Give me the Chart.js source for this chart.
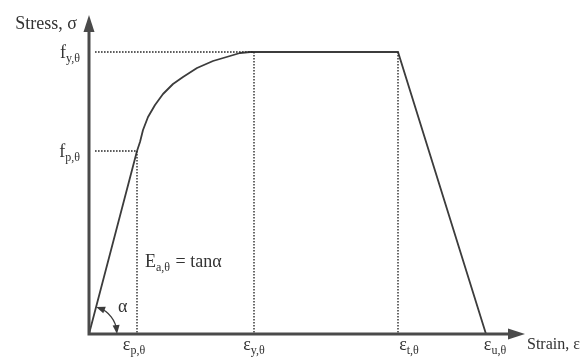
<!DOCTYPE html>
<html lang="en">

<head>
    <meta charset="UTF-8">
    <meta name="viewport" content="width=device-width, initial-scale=1.0">
    <title>Stress-strain relationship</title>
    <script src="https://cdn.jsdelivr.net/npm/chart.js"></script>
    <style>
        html, body { margin: 0; padding: 0; background: #fff; }
        .container { width: 584px; height: 359px; }
    </style>
</head>

<body>
    <div class="container">
        <canvas id="graficaTension" width="584" height="359"></canvas>
    </div>

    <script>
        // Puntos (unidades arbitrarias)
        const epsP = 48, epsY = 165, epsT = 309, epsU = 397;
        const fP = 183, fY = 282;

        // Rama eliptica entre f_p y f_y
        const curveStrain = [48, 51, 54, 59, 66, 74, 84, 94, 108, 124, 141, 151, 161, 165];
        const curveStress = [183, 192, 204, 217, 229, 240, 250, 257, 266, 273, 278, 281, 282, 282];

        // Tramos rectos: elastico, meseta y descenso
        const lineStrain = [0, epsP, null, epsY, epsT, epsU];
        const lineStress = [0, fP, null, fY, fY, 0];

        const xTickValues = [epsP, epsY, epsT, epsU];
        const xTickLabels = [['ε', 'p,θ'], ['ε', 'y,θ'], ['ε', 't,θ'], ['ε', 'u,θ']];
        const yTickValues = [fP, fY];
        const yTickLabels = [['f', 'p,θ'], ['f', 'y,θ']];

        const toPoints = (xs, ys) => xs.map((x, i) => x === null ? { x: null, y: null } : { x: x, y: ys[i] });

        const guide = (pts) => ({
            data: pts,
            borderColor: '#2a2a2a',
            borderWidth: 1.4,
            borderDash: [1.6, 1.4],
            pointRadius: 0,
            fill: false
        });

        const ink = '#3c3c3c';
        const serif = '"Times New Roman", "Liberation Serif", Times, serif';

        // texto con subindice
        function drawSub(ctx, main, sub, x, y, align, size) {
            ctx.font = size + 'px ' + serif;
            const w1 = ctx.measureText(main).width;
            ctx.font = Math.round(size * 0.66) + 'px ' + serif;
            const w2 = ctx.measureText(sub).width;
            let x0 = x;
            if (align === 'right') x0 = x - w1 - w2;
            if (align === 'center') x0 = x - (w1 + w2) / 2;
            ctx.textAlign = 'left';
            ctx.textBaseline = 'alphabetic';
            ctx.font = size + 'px ' + serif;
            ctx.fillText(main, x0, y);
            ctx.font = Math.round(size * 0.66) + 'px ' + serif;
            ctx.fillText(sub, x0 + w1, y + 4);
            return x0 + w1 + w2;
        }

        function arrowHead(ctx, tipX, tipY, angle, len, half) {
            ctx.save();
            ctx.translate(tipX, tipY);
            ctx.rotate(angle);
            ctx.beginPath();
            ctx.moveTo(0, 0);
            ctx.lineTo(-len, -half);
            ctx.lineTo(-len, half);
            ctx.closePath();
            ctx.fill();
            ctx.restore();
        }

        const ejesPlugin = {
            id: 'ejes',
            afterDatasetsDraw(chart) {
                const ctx = chart.ctx;
                const xs = chart.scales.x, ys = chart.scales.y;
                const ox = xs.getPixelForValue(0), oy = ys.getPixelForValue(0);
                const top = chart.chartArea.top, right = chart.chartArea.right;
                ctx.save();
                ctx.strokeStyle = '#4a4a4a';
                ctx.fillStyle = '#4a4a4a';
                ctx.lineWidth = 3;
                ctx.beginPath();
                ctx.moveTo(ox, top + 12);
                ctx.lineTo(ox, oy);
                ctx.lineTo(right - 12, oy);
                ctx.stroke();
                arrowHead(ctx, ox, top, -Math.PI / 2, 17, 5.5);
                arrowHead(ctx, right, oy, 0, 17, 5.5);

                // arco del angulo alfa
                const px = xs.getPixelForValue(epsP), py = ys.getPixelForValue(fP);
                const ang = Math.atan2(py - oy, px - ox);
                const r = 28;
                ctx.lineWidth = 1.3;
                ctx.strokeStyle = ink;
                ctx.fillStyle = ink;
                ctx.beginPath();
                ctx.arc(ox, oy, r, ang + 0.12, -0.12);
                ctx.stroke();
                arrowHead(ctx, ox + r * Math.cos(ang), oy + r * Math.sin(ang), ang - Math.PI / 2 + 0.1, 9, 3.5);
                arrowHead(ctx, ox + r, oy, Math.PI / 2 - 0.1, 9, 3.5);

                // textos
                ctx.fillStyle = '#333';
                ctx.font = '18px ' + serif;
                ctx.textAlign = 'right';
                ctx.textBaseline = 'alphabetic';
                ctx.fillText('Stress, σ', ox - 12, top + 14);
                ctx.textAlign = 'left';
                ctx.font = '16px ' + serif;
                ctx.fillText('Strain, ε', right + 2, oy + 15);
                ctx.font = '18px ' + serif;
                ctx.fillText('α', ox + 29, oy - 22);

                const xOffsets = [-3, 0, 11, 9];
                xTickValues.forEach((v, i) => {
                    drawSub(ctx, xTickLabels[i][0], xTickLabels[i][1], xs.getPixelForValue(v) + xOffsets[i], oy + 16, 'center', 18);
                });
                yTickValues.forEach((v, i) => {
                    drawSub(ctx, yTickLabels[i][0], yTickLabels[i][1], ox - 9, ys.getPixelForValue(v) + 6, 'right', 18);
                });

                const ex = drawSub(ctx, 'E', 'a,θ', px + 8, ys.getPixelForValue(67), 'left', 18);
                ctx.font = '18px ' + serif;
                ctx.fillText(' = tanα', ex + 1, ys.getPixelForValue(67));
                ctx.restore();
            }
        };

        const ctx = document.getElementById('graficaTension').getContext('2d');
        const graficaTension = new Chart(ctx, {
            type: 'line',
            data: {
                datasets: [
                    guide(toPoints([6, epsY], [fY, fY])),
                    guide(toPoints([6, epsP], [fP, fP])),
                    guide(toPoints([epsP, epsP], [fP, 0])),
                    guide(toPoints([epsY, epsY], [fY, 0])),
                    guide(toPoints([epsT, epsT], [fY, 0])),
                    {
                        data: toPoints(lineStrain, lineStress),
                        borderColor: ink,
                        borderWidth: 1.8,
                        pointRadius: 0,
                        spanGaps: false,
                        fill: false
                    },
                    {
                        data: toPoints(curveStrain, curveStress),
                        borderColor: ink,
                        borderWidth: 1.8,
                        pointRadius: 0,
                        borderJoinStyle: 'round',
                        fill: false
                    }
                ]
            },
            options: {
                responsive: false,
                animation: false,
                layout: {
                    padding: { left: 89, right: 59, top: 15, bottom: 25 }
                },
                scales: {
                    x: { type: 'linear', min: 0, max: 436, display: false },
                    y: { type: 'linear', min: 0, max: 319, display: false }
                },
                plugins: {
                    legend: { display: false },
                    tooltip: { enabled: false }
                }
            },
            plugins: [ejesPlugin]
        });
    </script>
</body>

</html>
